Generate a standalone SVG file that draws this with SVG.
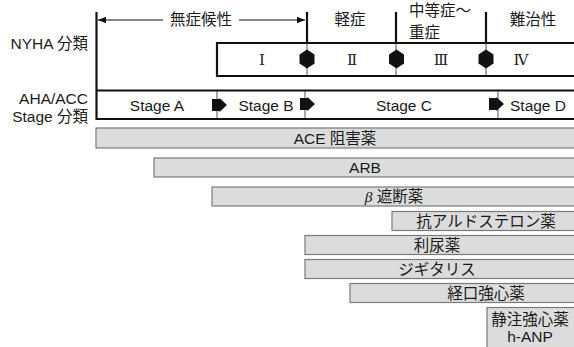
<svg xmlns="http://www.w3.org/2000/svg" width="574" height="347" viewBox="0 0 574 347">
<defs>
<style>
.t{font-family:"Liberation Sans","Noto Sans CJK JP",sans-serif;font-size:15.5px;fill:#1a1a1a}
.c{text-anchor:middle}
.r{text-anchor:end}
.rn{font-family:"DejaVu Serif","Liberation Serif","Noto Sans CJK JP",serif;font-size:15px;fill:#222;text-anchor:middle}
.bar{fill:#dcdcdc;stroke:#7a7a7a;stroke-width:1.2}
.thick{stroke:#111;stroke-width:2.2;fill:none}
.thin{stroke:#555;stroke-width:1;fill:none}
.blk{fill:#111}
</style>
<marker id="ah" viewBox="0 0 10 10" refX="10" refY="5" markerWidth="8" markerHeight="8" markerUnits="userSpaceOnUse" orient="auto-start-reverse">
<path d="M0,1 L10,5 L0,9 Z" fill="#111"/>
</marker>
<polygon id="blkarrow" points="0,-6 7.5,-6 7.5,-7 15,0 7.5,7 7.5,6 0,6" class="blk"/>
<polygon id="hex" points="0,-9.5 7.5,-4.5 7.5,4.5 0,9.5 -7.5,4.5 -7.5,-4.5" class="blk"/>
</defs>

<g id="labels">
<text class="t r" x="88" y="49">NYHA 分類</text>
<text class="t r" x="88" y="104">AHA/ACC</text>
<text class="t r" x="88" y="122">Stage 分類</text>
</g>

<g id="connectors">
<line class="thick" x1="96.5" y1="12" x2="96.5" y2="120"/>
<line x1="98" y1="20" x2="163" y2="20" stroke="#111" stroke-width="1" marker-start="url(#ah)"/>
<line x1="239" y1="20" x2="305" y2="20" stroke="#111" stroke-width="1" marker-end="url(#ah)"/>
<line class="thick" x1="307" y1="12" x2="307" y2="43"/>
<line class="thick" x1="396" y1="12" x2="396" y2="43"/>
<line class="thick" x1="486" y1="12" x2="486" y2="43"/>
<line class="thin" x1="307" y1="43" x2="307" y2="76"/>
<line class="thin" x1="396" y1="43" x2="396" y2="76"/>
<line class="thin" x1="486" y1="43" x2="486" y2="76"/>
<line class="thin" x1="217" y1="91" x2="217" y2="119"/>
<line class="thin" x1="305" y1="91" x2="305" y2="119"/>
<line class="thin" x1="498" y1="91" x2="498" y2="119"/>
<use href="#hex" x="307" y="59"/>
<use href="#hex" x="396.5" y="59"/>
<use href="#hex" x="486" y="59"/>
<use href="#blkarrow" x="212" y="105"/>
<use href="#blkarrow" x="300" y="104"/>
<use href="#blkarrow" x="489" y="104"/>
</g>

<g id="phase-labels">
<text class="t c" x="201" y="25">無症候性</text>
<text class="t c" x="350" y="25">軽症</text>
<text class="t" x="409" y="16">中等症～</text>
<text class="t" x="409" y="38">重症</text>
<text class="t c" x="533" y="25">難治性</text>
</g>

<g id="nyha">
<polyline class="thick" points="575,43 217,43 217,76 575,76"/>
<text class="rn" x="262" y="64.5">Ⅰ</text>
<text class="rn" x="352" y="64.5">Ⅱ</text>
<text class="rn" x="441" y="64.5">Ⅲ</text>
<text class="rn" x="521" y="64.5">Ⅳ</text>
</g>

<g id="stage">
<line class="thick" x1="96" y1="90.5" x2="574" y2="90.5"/>
<line class="thick" x1="96" y1="119" x2="574" y2="119"/>
<text class="t c" x="157" y="110.5">Stage A</text>
<text class="t c" x="266" y="110.5">Stage B</text>
<text class="t c" x="404" y="110.5">Stage C</text>
<text class="t c" x="538" y="110.5">Stage D</text>
</g>

<g id="ace"><rect class="bar" x="96" y="128" width="480" height="20"/><text class="t c" x="335" y="143.5">ACE 阻害薬</text></g>
<g id="arb"><rect class="bar" x="154" y="158" width="422" height="19"/><text class="t c" x="365" y="173">ARB</text></g>
<g id="beta"><rect class="bar" x="212" y="187" width="364" height="19"/><text class="t c" x="394" y="202"><tspan font-family="Liberation Serif" font-style="italic">β</tspan> 遮断薬</text></g>
<g id="antiald"><rect class="bar" x="392" y="211.5" width="184" height="19"/><text class="t c" x="486" y="226.5">抗アルドステロン薬</text></g>
<g id="diuretic"><rect class="bar" x="305" y="235.5" width="271" height="19"/><text class="t c" x="437" y="250.5">利尿薬</text></g>
<g id="digitalis"><rect class="bar" x="305" y="259.5" width="271" height="19"/><text class="t c" x="437" y="274.5">ジギタリス</text></g>
<g id="oral"><rect class="bar" x="350" y="283.5" width="226" height="19"/><text class="t c" x="486" y="298.5">経口強心薬</text></g>
<g id="iv"><rect class="bar" x="487" y="307.5" width="89" height="42"/><text class="t c" x="530" y="325">静注強心薬</text><text class="t c" x="530" y="342">h-ANP</text></g>
</svg>
